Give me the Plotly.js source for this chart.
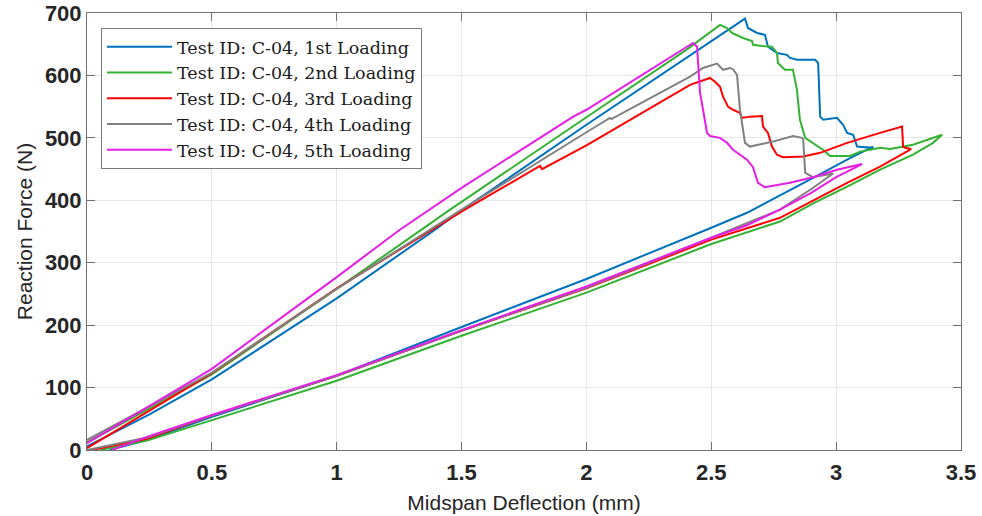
<!DOCTYPE html>
<html>
<head>
<meta charset="utf-8">
<script src="https://cdn.plot.ly/plotly-3.0.1.min.js"></script>
<style>html,body{margin:0;padding:0;background:#fff;}#chart{width:982px;height:516px;}</style>
</head>
<body>
<div id="chart"></div>
<script>
// Series names
const names = [
  'Test ID: C-04, 1st Loading',
  'Test ID: C-04, 2nd Loading',
  'Test ID: C-04, 3rd Loading',
  'Test ID: C-04, 4th Loading',
  'Test ID: C-04, 5th Loading'
];

// 1st loading (loading branch, then unloading branch)
const x1 = [0, 0.25, 0.5, 1.0, 1.394, 1.5, 2.0, 2.415, 2.635, 2.647, 2.683, 2.715, 2.727, 2.763, 2.803, 2.815, 2.843, 2.916, 2.928, 2.936, 2.948, 3.003, 3.028, 3.044, 3.068, 3.084, 3.144, 3.148, 3.044, 2.908, 2.643, 2.5, 2.175, 2.0, 1.5, 1.0, 0.5, 0.24, 0.09];
const y1 = [6, 57, 113, 243, 353, 384, 521, 632, 691, 676, 668, 665, 646, 636, 633, 628, 625, 625, 620, 534, 529, 532, 521, 508, 505, 486, 484, 486, 465, 436, 380, 356, 302, 274, 197, 119, 53, 16, 0];

// 2nd loading
const x2 = [0, 0.5, 1.0, 1.454, 2.0, 2.4, 2.535, 2.563, 2.583, 2.627, 2.663, 2.667, 2.703, 2.743, 2.763, 2.767, 2.795, 2.827, 2.843, 2.855, 2.876, 2.908, 2.947, 2.976, 3.056, 3.096, 3.176, 3.216, 3.308, 3.424, 3.388, 3.308, 3.176, 3.044, 2.908, 2.775, 2.5, 2.0, 1.5, 1.0, 0.5, 0.24, 0.053];
const y2 = [12, 121, 258, 385, 533, 641, 681, 676, 668, 660, 655, 649, 647, 646, 636, 620, 609, 609, 577, 529, 500, 492, 481, 471, 471, 478, 484, 482, 489, 505, 492, 473, 449, 422, 395, 366, 330, 252, 183, 111, 48, 15, 0];

// 3rd loading
const x3 = [0, 0.5, 1.0, 1.513, 1.814, 1.822, 2.0, 2.415, 2.495, 2.515, 2.535, 2.547, 2.567, 2.587, 2.615, 2.623, 2.655, 2.703, 2.707, 2.727, 2.743, 2.763, 2.787, 2.868, 2.936, 3.044, 3.176, 3.264, 3.268, 3.276, 3.3, 3.176, 3.044, 2.908, 2.775, 2.5, 2.0, 1.5, 1.0, 0.5, 0.24, 0.02];
const y3 = [3, 123, 259, 385, 455, 450, 488, 585, 596, 590, 582, 566, 550, 545, 540, 532, 534, 535, 518, 508, 486, 473, 469, 470, 476, 492, 508, 518, 486, 484, 482, 454, 428, 400, 372, 337, 259, 191, 119, 55, 18, 0];

// 4th loading
const x4 = [0, 0.5, 1.0, 1.5, 2.0, 2.094, 2.1, 2.415, 2.467, 2.523, 2.547, 2.575, 2.587, 2.603, 2.615, 2.627, 2.635, 2.655, 2.747, 2.827, 2.863, 2.868, 2.876, 2.908, 2.988, 2.908, 2.775, 2.5, 2.0, 1.5, 1.0, 0.5, 0.24, 0];
const y4 = [16, 124, 258, 385, 509, 532, 530, 598, 612, 619, 609, 612, 610, 601, 545, 513, 492, 486, 494, 503, 500, 498, 444, 437, 443, 420, 385, 340, 260, 191, 119, 55, 20, 0];

// 5th loading
const x5 = [0, 0.5, 1.0, 1.25, 1.5, 1.947, 2.0, 2.4, 2.427, 2.443, 2.455, 2.467, 2.483, 2.495, 2.535, 2.563, 2.587, 2.643, 2.667, 2.687, 2.715, 2.815, 2.908, 3.003, 3.104, 3.0, 2.9, 2.775, 2.643, 2.5, 2.0, 1.5, 1.0, 0.5, 0.24, 0.1];
const y5 = [11, 130, 277, 352, 420, 534, 545, 646, 652, 646, 572, 545, 508, 503, 500, 492, 481, 465, 453, 428, 421, 428, 437, 449, 458, 437, 412, 385, 360, 340, 262, 192, 120, 56, 21, 0];

const xTickVals = [0, 0.5, 1, 1.5, 2, 2.5, 3, 3.5];
const xTickText = ['0', '0.5', '1', '1.5', '2', '2.5', '3', '3.5'];
const yTickVals = [0, 100, 200, 300, 400, 500, 600, 700];
const yTickText = ['0', '100', '200', '300', '400', '500', '600', '700'];

const colors = ['#0072BD', '#33b233', '#ff0000', '#808080', '#e61ee6'];
const xs = [x1, x2, x3, x4, x5];
const ys = [y1, y2, y3, y4, y5];

const traces = xs.map((x, i) => ({
  x: x, y: ys[i], name: names[i], type: 'scatter', mode: 'lines',
  line: {color: colors[i], width: 2}
}));

const axisCommon = {
  showline: true, linecolor: '#707070', linewidth: 1, mirror: 'ticks',
  ticks: 'inside', ticklen: 8, tickcolor: '#707070', tickwidth: 1,
  showgrid: true, gridcolor: '#e6e6e6', gridwidth: 1, zeroline: false,
  tickfont: {family: 'Liberation Sans, Arial, sans-serif', size: 22, color: '#262626', weight: 'bold'}
};

const layout = {
  width: 982, height: 516,
  margin: {l: 87, r: 21, t: 13, b: 66},
  paper_bgcolor: '#ffffff', plot_bgcolor: '#ffffff',
  showlegend: true,
  xaxis: Object.assign({}, axisCommon, {
    range: [0, 3.5], tickmode: 'array', tickvals: xTickVals, ticktext: xTickText,
    ticklabelstandoff: 3,
    title: {text: 'Midspan Deflection (mm)', standoff: 10,
      font: {family: 'Liberation Sans, Arial, sans-serif', size: 21, color: '#262626'}}
  }),
  yaxis: Object.assign({}, axisCommon, {
    range: [0, 700], tickmode: 'array', tickvals: yTickVals, ticktext: yTickText,
    title: {text: 'Reaction Force (N)', standoff: 6,
      font: {family: 'Liberation Sans, Arial, sans-serif', size: 21, color: '#262626'}}
  }),
  legend: {
    x: 0.016, y: 0.966, xanchor: 'left', yanchor: 'top',
    bgcolor: '#ffffff', bordercolor: '#7a7a7a', borderwidth: 1,
    font: {family: 'DejaVu Serif, Liberation Serif, serif', size: 17.5, color: '#1a1a1a'},
    itemwidth: 65, tracegroupgap: 0
  }
};

Plotly.newPlot('chart', traces, layout, {displayModeBar: false, staticPlot: true});
</script>
</body>
</html>
